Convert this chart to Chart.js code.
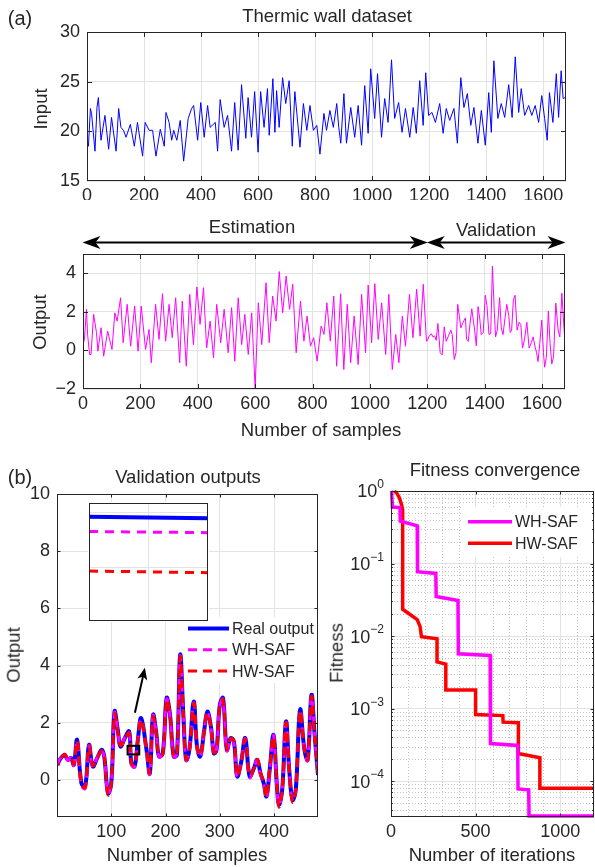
<!DOCTYPE html>
<html><head><meta charset="utf-8">
<script src="https://cdn.jsdelivr.net/npm/chart.js@4/dist/chart.umd.min.js"></script>
<style>
html,body{margin:0;padding:0;background:#fff;}
body{width:595px;height:867px;position:relative;overflow:hidden;font-family:"Liberation Sans",Arial,Helvetica,sans-serif;color:#262626;}
canvas{position:absolute;}
.t{position:absolute;white-space:nowrap;transform:translate(-50%,-50%);font-size:18.5px;line-height:1;color:#262626;}
.r{transform:translate(-50%,-50%) rotate(-90deg);}
</style></head><body>
<canvas id="c1" width="595" height="200" style="left:0;top:0"></canvas>
<canvas id="c2" width="595" height="240" style="left:0;top:205px"></canvas>
<canvas id="c3" width="330" height="407" style="left:0;top:460px"></canvas>
<canvas id="c3i" width="121" height="120" style="left:88px;top:501.5px"></canvas>
<canvas id="c4" width="265" height="407" style="left:330px;top:460px"></canvas>

<div class="t" style="left:20px;top:18px;font-size:20px">(a)</div>
<div class="t" style="left:327px;top:15.5px">Thermic wall dataset</div>
<div class="t r" style="left:41px;top:109px">Input</div>
<div class="t" style="left:252px;top:227px">Estimation</div>
<div class="t" style="left:496px;top:230px">Validation</div>
<div class="t r" style="left:40px;top:322px">Output</div>
<div class="t" style="left:321px;top:430px">Number of samples</div>
<div class="t" style="left:20px;top:477px;font-size:20px">(b)</div>
<div class="t" style="left:188px;top:477px">Validation outputs</div>
<div class="t r" style="left:14px;top:655px">Output</div>
<div class="t" style="left:187px;top:855px">Number of samples</div>
<div class="t" style="left:495px;top:470px">Fitness convergence</div>
<div class="t r" style="left:337px;top:653px">Fitness</div>
<div class="t" style="left:492px;top:855px">Number of iterations</div>

<script>
// ---------------- DATA ----------------
// (a) input temperature: [sample, value]
const inputSeries = [[0,19.2],[5,18.5],[12,22.3],[16,21.8],[28,18.0],[35,22.4],[40,23.4],[49,19.1],[63,21.6],[76,18.2],[86,21.4],[102,18.0],[111,22.3],[119,20.4],[128,20.1],[137,19.4],[152,20.7],[166,18.5],[177,20.9],[195,17.5],[204,20.9],[218,20.1],[230,20.1],[242,17.5],[257,20.2],[271,18.5],[277,21.9],[288,20.9],[297,19.1],[304,20.1],[315,19.1],[327,21.1],[339,17.0],[355,21.3],[367,22.3],[374,22.6],[388,19.1],[399,22.9],[411,19.4],[423,22.6],[432,20.4],[450,20.9],[458,18.0],[467,23.2],[481,20.4],[493,21.6],[507,18.0],[518,22.9],[530,18.1],[542,24.7],[557,19.3],[565,23.4],[577,19.4],[588,24.0],[600,17.9],[609,24.0],[621,20.4],[633,24.3],[639,19.6],[652,25.3],[659,19.9],[665,24.1],[674,20.4],[686,25.4],[697,22.8],[709,25.1],[720,18.5],[729,24.0],[747,18.4],[759,22.8],[771,20.1],[782,22.6],[794,20.1],[806,20.6],[817,17.7],[831,21.8],[840,20.1],[852,22.1],[864,20.4],[876,22.8],[883,20.4],[890,18.8],[901,23.8],[910,18.8],[925,22.4],[939,19.4],[951,22.6],[963,18.6],[974,24.6],[986,19.8],[995,26.3],[1009,21.3],[1019,25.8],[1033,19.4],[1044,23.3],[1056,20.9],[1068,27.2],[1079,21.3],[1093,22.9],[1105,19.9],[1117,22.3],[1132,19.4],[1144,22.4],[1155,19.8],[1167,25.1],[1179,20.6],[1188,25.9],[1198,21.6],[1210,21.9],[1222,20.9],[1237,22.8],[1249,19.8],[1260,22.3],[1272,21.1],[1287,22.3],[1299,18.8],[1311,25.4],[1322,22.4],[1334,23.8],[1346,20.6],[1357,22.4],[1371,18.8],[1383,22.1],[1397,18.6],[1409,23.9],[1418,19.9],[1427,27.1],[1441,21.3],[1453,22.8],[1465,21.4],[1479,24.7],[1491,21.4],[1502,27.5],[1514,21.9],[1523,24.3],[1535,21.6],[1549,22.6],[1560,21.6],[1572,22.6],[1584,20.9],[1595,23.6],[1605,21.3],[1614,19.1],[1622,23.9],[1634,20.9],[1646,25.8],[1654,21.4],[1663,26.1],[1670,23.3],[1677,23.4]];

// (a) output, estimation part: [sample, value]
const outputEstimation = [[0,0.3],[5,0.57],[12,2.13],[16,0.83],[23,-0.21],[28,-0.21],[37,1.87],[47,0.92],[52,-0.04],[63,1.18],[72,-0.3],[86,1.0],[101,0.05],[111,1.95],[119,1.52],[131,2.73],[140,0.4],[154,2.39],[166,0.22],[180,2.3],[192,-0.04],[203,2.3],[218,0.05],[230,1.09],[238,-0.64],[253,2.39],[265,0.57],[277,2.94],[288,0.48],[300,2.39],[311,0.66],[323,2.73],[337,-0.64],[346,2.56],[360,-0.82],[372,2.91],[385,0.3],[397,3.29],[408,1.35],[420,3.25],[431,0.13],[443,1.52],[455,-0.38],[466,2.39],[480,0.4],[492,2.13],[506,-0.12],[518,2.22],[529,-0.56],[541,2.73],[553,0.3],[564,1.87],[576,-0.21],[588,1.95],[600,-1.98],[611,2.47],[623,0.3],[638,3.51],[649,0.4],[661,2.82],[673,1.52],[684,4.09],[696,1.95],[708,3.86],[720,2.13],[731,3.43],[743,-0.12],[758,2.56],[770,0.48],[781,1.78],[793,0.22],[804,0.66],[816,-0.56],[830,1.26],[840,0.83],[850,2.47],[862,0.48],[874,2.82],[884,-0.82],[898,2.94],[909,-0.99],[921,2.39],[933,-0.64],[945,1.78],[959,-0.73],[971,2.91],[985,-0.12],[994,3.39],[1006,0.4],[1017,3.46],[1029,0.57],[1041,2.47],[1055,-0.21],[1066,2.91],[1078,-0.99],[1090,0.83],[1101,-0.64],[1113,1.78],[1124,0.22],[1138,2.91],[1150,0.66],[1163,3.17],[1175,0.74],[1186,3.43],[1197,0.48]];

// (b) validation outputs: [validation sample, value]
const validationReal = [[1,0.52],[5,0.7],[14,0.87],[20,0.7],[26,0.76],[31,0.52],[37,1.4],[45,-0.12],[52,-0.23],[59,1.22],[66,0.47],[74,0.76],[82,1.05],[87,0.82],[94,-0.47],[100,-0.12],[106,2.39],[112,1.75],[117,1.17],[125,1.46],[133,1.69],[137,0.58],[143,0.47],[149,1.4],[155,2.16],[165,1.05],[171,0.23],[177,2.27],[183,1.63],[188,0.82],[195,0.93],[202,2.86],[208,2.33],[215,0.82],[221,0.87],[227,4.37],[233,2.22],[238,0.7],[244,1.05],[252,2.74],[258,1.17],[264,0.82],[271,1.69],[277,2.39],[284,1.81],[289,0.93],[294,1.05],[300,2.62],[306,2.86],[313,1.05],[320,1.46],[326,1.34],[332,0.12],[339,0.58],[347,1.46],[355,0.12],[363,0.41],[369,0.7],[375,0.23],[381,-0.12],[386,-0.58],[392,0.35],[399,1.57],[405,-0.12],[409,-0.87],[415,-0.35],[422,2.04],[428,0.35],[434,-0.7],[440,-0.35],[448,2.45],[456,1.05],[462,0.7],[469,2.97],[475,1.52],[481,0.17]];
const validationWH = [[1,0.5],[5,0.72],[14,0.85],[20,0.68],[26,0.78],[31,0.5],[37,1.38],[45,-0.2],[52,-0.3],[59,1.2],[66,0.45],[74,0.78],[82,1.03],[87,0.8],[94,-0.5],[100,-0.1],[106,2.35],[112,1.72],[117,1.15],[125,1.48],[133,1.66],[137,0.55],[143,0.45],[149,1.42],[155,2.12],[165,1.02],[171,0.2],[177,2.25],[183,1.6],[188,0.8],[195,0.95],[202,2.82],[208,2.3],[215,0.8],[221,0.9],[227,4.33],[233,2.2],[238,0.68],[244,1.07],[252,2.7],[258,1.15],[264,0.8],[271,1.7],[277,2.36],[284,1.78],[289,0.9],[294,1.08],[300,2.6],[306,2.82],[313,1.02],[320,1.45],[326,1.3],[332,0.08],[339,0.6],[347,1.44],[355,0.08],[363,0.42],[369,0.68],[375,0.2],[381,-0.15],[386,-0.62],[392,0.33],[399,1.55],[405,-0.16],[409,-0.9],[415,-0.38],[422,2.0],[428,0.33],[434,-0.74],[440,-0.36],[448,2.42],[456,1.02],[462,0.68],[469,2.93],[475,1.5],[481,0.15]];
const validationHW = [[1,0.55],[5,0.68],[14,0.9],[20,0.72],[26,0.74],[31,0.55],[37,1.36],[45,-0.15],[52,-0.26],[59,1.18],[66,0.5],[74,0.74],[82,1.02],[87,0.84],[94,-0.52],[100,-0.15],[106,2.3],[112,1.7],[117,1.2],[125,1.44],[133,1.64],[137,0.6],[143,0.5],[149,1.38],[155,2.1],[165,1.08],[171,0.25],[177,2.2],[183,1.62],[188,0.85],[195,0.9],[202,2.8],[208,2.3],[215,0.85],[221,0.85],[227,4.3],[233,2.25],[238,0.72],[244,1.02],[252,2.68],[258,1.2],[264,0.85],[271,1.66],[277,2.34],[284,1.8],[289,0.95],[294,1.02],[300,2.58],[306,2.8],[313,1.08],[320,1.44],[326,1.36],[332,0.15],[339,0.56],[347,1.42],[355,0.15],[363,0.4],[369,0.72],[375,0.25],[381,-0.1],[386,-0.6],[392,0.38],[399,1.52],[405,-0.1],[409,-0.95],[415,-0.32],[422,2.0],[428,0.38],[434,-0.78],[440,-0.33],[448,2.4],[456,1.08],[462,0.72],[469,2.92],[475,1.55],[481,0.2]];
const validationStart = 1200;          // validation begins after this sample
const datasetBounds = [0, 1200, 1680]; // estimation | validation

// inset (zoom of the small box)
const insetSamples = [139.9, 140.1];
const insetReal = [0.9493, 0.9490];
const insetWH = [0.9466, 0.9464];
const insetHW = [0.9394, 0.9391];
const zoomBox = {x0:130, x1:151.6, y0:0.89, y1:1.19};
const zoomArrow = {x0:143.6, y0:2.35, x1:162, y1:3.92};

// fitness convergence: [iteration, fitness]
const fitnessWH = [[1,1.0],[4,0.96],[8,0.6],[53,0.59],[55,0.385],[155,0.33],[157,0.077],[265,0.073],[267,0.035],[396,0.031],[398,0.0057],[586,0.0054],[588,0.00033],[749,0.00031],[751,0.000078],[814,0.000076],[816,0.000033],[1200,0.000033]];
const fitnessHW = [[19,1.0],[35,0.93],[50,0.8],[62,0.65],[69,0.55],[69,0.0234],[155,0.0169],[172,0.0135],[180,0.0098],[272,0.0092],[272,0.0044],[324,0.0041],[324,0.0018],[500,0.0018],[500,0.00083],[661,0.0008],[663,0.00065],[753,0.00064],[753,0.00024],[880,0.00021],[880,0.00008],[1200,0.00008]];

// tick values
const ticksA_x = [0,200,400,600,800,1000,1200,1400,1600];
const ticksInput_y = [15,20,25,30];
const ticksOutput_y = [-2,0,2,4];
const ticksVal_x = [100,200,300,400];
const ticksVal_y = [0,2,4,6,8,10];
const ticksFit_x = [0,500,1000];
const fitDecades = [0,-1,-2,-3,-4];

// ---------------- STYLE / HELPERS ----------------
const FONT = '"Liberation Sans", Arial, Helvetica, sans-serif';
const TXT = '#262626', GRID = '#e3e3e3', AX = '#262626';
const TICKFONT = 18;
Chart.defaults.font.family = FONT;
Chart.defaults.color = TXT;
Chart.defaults.animation = false;

const pts = arr => arr.map(([x,y]) => ({x, y}));
const minus = v => v < 0 ? '\u2212' + (-v) : String(v);

function xScale(min, max, ticks, h, show=true){
  return {type:'linear', min, max,
    grid:{color:GRID, drawTicks:false, lineWidth:1}, border:{display:false},
    ticks:{display:show, color:TXT, font:{size:TICKFONT}, padding:4, maxRotation:0, autoSkip:false, callback:v=>minus(v)},
    afterBuildTicks:s=>{s.ticks = ticks.map(v=>({value:v}));},
    afterFit:s=>{s.height = h;}};
}
function yScale(min, max, ticks, w, show=true){
  return {type:'linear', min, max,
    grid:{color:GRID, drawTicks:false, lineWidth:1}, border:{display:false},
    ticks:{display:show, color:TXT, font:{size:TICKFONT}, padding:7, callback:v=>minus(v)},
    afterBuildTicks:s=>{s.ticks = ticks.map(v=>({value:v}));},
    afterFit:s=>{s.width = w;}};
}

const framePlugin = {
  id:'frame',
  afterDatasetsDraw(chart, args, o){
    if(!o || !o.on) return;
    const ctx = chart.ctx, a = chart.chartArea;
    const xs = chart.scales.x, ys = chart.scales.y;
    const L = o.len || 5;
    ctx.save();
    ctx.strokeStyle = AX; ctx.lineWidth = 1;
    ctx.beginPath();
    if(o.ticks !== false){
      xs.ticks.forEach(t=>{
        const p = Math.round(xs.getPixelForValue(t.value)) + 0.5;
        if(p < a.left + 1 || p > a.right - 1) return;
        ctx.moveTo(p, a.bottom); ctx.lineTo(p, a.bottom - L);
        ctx.moveTo(p, a.top); ctx.lineTo(p, a.top + L);
      });
      ys.ticks.forEach(t=>{
        const p = Math.round(ys.getPixelForValue(t.value)) + 0.5;
        if(p < a.top + 1 || p > a.bottom - 1) return;
        ctx.moveTo(a.left, p); ctx.lineTo(a.left + L, p);
        ctx.moveTo(a.right, p); ctx.lineTo(a.right - L, p);
      });
      (o.minorY || []).forEach(v=>{
        const p = Math.round(ys.getPixelForValue(v)) + 0.5;
        if(p < a.top + 1 || p > a.bottom - 1) return;
        ctx.moveTo(a.left, p); ctx.lineTo(a.left + L*0.55, p);
        ctx.moveTo(a.right, p); ctx.lineTo(a.right - L*0.55, p);
      });
    }
    ctx.stroke();
    ctx.strokeRect(Math.round(a.left) + 0.5, Math.round(a.top) + 0.5, Math.round(a.right - a.left) - 1, Math.round(a.bottom - a.top) - 1);
    ctx.restore();
  }
};
Chart.register(framePlugin);

function baseOpts(pad){
  return {responsive:false, animation:false, events:[],
    layout:{padding:pad},
    plugins:{legend:{display:false}, tooltip:{enabled:false}, title:{display:false}},
    elements:{point:{radius:0}, line:{tension:0}}};
}

function drawArrowHead(ctx, x, y, dir, len, half){
  ctx.beginPath();
  ctx.moveTo(x, y);
  ctx.lineTo(x - dir*len, y - half);
  ctx.lineTo(x - dir*len*0.72, y);
  ctx.lineTo(x - dir*len, y + half);
  ctx.closePath();
  ctx.fill();
}

// ---------------- CHART 1: input ----------------
{
  const o = baseOpts({left:0, top:32, right:29, bottom:0});
  o.scales = {x:xScale(0,1680,ticksA_x,19), y:yScale(15,30,ticksInput_y,87)};
  o.plugins.frame = {on:true, len:5};
  new Chart(document.getElementById('c1'), {type:'line',
    data:{datasets:[{data:pts(inputSeries), borderColor:'#0000ff', borderWidth:1, pointRadius:0}]},
    options:o});
}

// ---------------- CHART 2: output ----------------
{
  const full = outputEstimation.concat(validationReal.map(([s,v])=>[s+validationStart, v]));
  const o = baseOpts({left:0, top:49, right:30, bottom:0});
  o.scales = {x:xScale(0,1680,ticksA_x,56), y:yScale(-2,5,ticksOutput_y,83)};
  o.plugins.frame = {on:true, len:5};
  const arrows = {id:'splitArrows', afterDraw(chart){
    const ctx = chart.ctx, xs = chart.scales.x, y = 37.5;
    const p = datasetBounds.map(v=>xs.getPixelForValue(v));
    ctx.save();
    ctx.strokeStyle = '#000'; ctx.fillStyle = '#000'; ctx.lineWidth = 2;
    [[p[0],p[1]],[p[1],p[2]]].forEach(([a,b])=>{
      ctx.beginPath(); ctx.moveTo(a+6, y); ctx.lineTo(b-6, y); ctx.stroke();
      drawArrowHead(ctx, a-0.5, y, -1, 18, 6.5);
      drawArrowHead(ctx, b+0.5, y, 1, 18, 6.5);
    });
    ctx.restore();
  }};
  new Chart(document.getElementById('c2'), {type:'line',
    data:{datasets:[{data:pts(full), borderColor:'#ff00ff', borderWidth:1, pointRadius:0}]},
    options:o, plugins:[arrows]});
}

// ---------------- CHART 3: validation outputs ----------------
{
  const o = baseOpts({left:0, top:34, right:12, bottom:0});
  o.scales = {x:xScale(0,481,ticksVal_x,50), y:yScale(-1.3,10,ticksVal_y,57)};
  o.plugins.frame = {on:true, len:3.5};
  o.elements.line.tension = 0.4;
  const extras = {id:'valExtras', afterDraw(chart){
    const ctx = chart.ctx, xs = chart.scales.x, ys = chart.scales.y, a = chart.chartArea;
    ctx.save();
    const bx0 = xs.getPixelForValue(zoomBox.x0), bx1 = xs.getPixelForValue(zoomBox.x1);
    const by0 = ys.getPixelForValue(zoomBox.y1), by1 = ys.getPixelForValue(zoomBox.y0);
    ctx.strokeStyle = '#000'; ctx.lineWidth = 2;
    ctx.strokeRect(bx0, by0, bx1-bx0, by1-by0);
    const ax0 = xs.getPixelForValue(zoomArrow.x0), ay0 = ys.getPixelForValue(zoomArrow.y0);
    const ax1 = xs.getPixelForValue(zoomArrow.x1), ay1 = ys.getPixelForValue(zoomArrow.y1);
    const ang = Math.atan2(ay1-ay0, ax1-ax0);
    ctx.beginPath(); ctx.moveTo(ax0, ay0); ctx.lineTo(ax1 - 8*Math.cos(ang), ay1 - 8*Math.sin(ang)); ctx.stroke();
    ctx.fillStyle = '#000';
    ctx.translate(ax1, ay1); ctx.rotate(ang);
    ctx.beginPath(); ctx.moveTo(0,0); ctx.lineTo(-12,-5); ctx.lineTo(-9,0); ctx.lineTo(-12,5); ctx.closePath(); ctx.fill();
    ctx.setTransform(1,0,0,1,0,0);
    const lx = 185, ly = 617-460;
    ctx.fillStyle = '#fff'; ctx.fillRect(lx, ly, a.right - lx - 1, 66);
    const rows = [['Real output','#0000ff',4,[]],['WH-SAF','#ff00ff',3,[9,6]],['HW-SAF','#ff0000',3,[9,6]]];
    rows.forEach(([txt,col,w,dash],i)=>{
      const y = ly + 11.5 + i*21.3;
      ctx.strokeStyle = col; ctx.lineWidth = w; ctx.setLineDash(dash);
      ctx.beginPath(); ctx.moveTo(lx+3, y); ctx.lineTo(lx+44, y); ctx.stroke();
      ctx.setLineDash([]);
      ctx.fillStyle = TXT; ctx.font = '16px ' + FONT; ctx.textAlign = 'left'; ctx.textBaseline = 'middle';
      ctx.fillText(txt, lx+47, y+1);
    });
    ctx.restore();
  }};
  new Chart(document.getElementById('c3'), {type:'line',
    data:{datasets:[
      {data:pts(validationReal), borderColor:'#0000ff', borderWidth:4, pointRadius:0, order:3},
      {data:pts(validationWH), borderColor:'#ff00ff', borderWidth:3, borderDash:[9,6], pointRadius:0, order:2},
      {data:pts(validationHW), borderColor:'#ff0000', borderWidth:3, borderDash:[9,6], borderDashOffset:7.5, pointRadius:0, order:1}
    ]}, options:o, plugins:[extras]});
}

// ---------------- INSET ----------------
{
  const o = baseOpts({left:1, top:1, right:1, bottom:1});
  o.scales = {x:xScale(139.9,140.1,[140],0,false), y:yScale(0.9303,0.9518,[0.94,0.95],0,false)};
  o.plugins.frame = {on:true, ticks:false};
  const bg = {id:'bg', beforeDraw(chart){const c=chart.ctx; c.save(); c.fillStyle='#fff'; c.fillRect(0,0,chart.width,chart.height); c.restore();}};
  const mk = (ys) => insetSamples.map((x,i)=>({x, y:ys[i]}));
  new Chart(document.getElementById('c3i'), {type:'line',
    data:{datasets:[
      {data:mk(insetReal), borderColor:'#0000ff', borderWidth:4, pointRadius:0, order:3},
      {data:mk(insetWH), borderColor:'#ff00ff', borderWidth:3, borderDash:[9,7], pointRadius:0, order:2},
      {data:mk(insetHW), borderColor:'#ff0000', borderWidth:3, borderDash:[9,7], pointRadius:0, order:1}
    ]}, options:o, plugins:[bg]});
}

// ---------------- CHART 4: fitness convergence ----------------
{
  const minorY = [];
  for(let e=-5;e<0;e++) for(let s=2;s<=9;s++) minorY.push(s*Math.pow(10,e));
  const o = baseOpts({left:0, top:31, right:1, bottom:0});
  o.scales = {
    x:xScale(0,1200,ticksFit_x,50),
    y:{type:'logarithmic', min:3.2e-5, max:1,
       grid:{color:GRID, drawTicks:false}, border:{display:false},
       ticks:{display:false},
       afterBuildTicks:s=>{s.ticks = fitDecades.map(e=>({value:Math.pow(10,e)}));},
       afterFit:s=>{s.width = 61;}}
  };
  o.plugins.frame = {on:true, len:3.5, minorY};
  const extras = {id:'fitExtras',
    beforeDatasetsDraw(chart){
      const ctx = chart.ctx, xs = chart.scales.x, ys = chart.scales.y, a = chart.chartArea;
      ctx.save(); ctx.strokeStyle = '#c4c4c4'; ctx.lineWidth = 1; ctx.setLineDash([1,2]);
      ctx.beginPath();
      minorY.forEach(v=>{ if(v < ys.min || v > ys.max) return;
        const p = Math.round(ys.getPixelForValue(v))+0.5; ctx.moveTo(a.left, p); ctx.lineTo(a.right, p);});
      for(let it=100; it<1200; it+=100){ if(it%500===0) continue;
        const p = Math.round(xs.getPixelForValue(it))+0.5; ctx.moveTo(p, a.top); ctx.lineTo(p, a.bottom);}
      ctx.stroke(); ctx.restore();
    },
    afterDraw(chart){
      const ctx = chart.ctx, ys = chart.scales.y, a = chart.chartArea;
      ctx.save(); ctx.fillStyle = TXT; ctx.textBaseline = 'middle';
      const endX = a.left - 7;
      fitDecades.forEach(e=>{
        const y = ys.getPixelForValue(Math.pow(10,e));
        const sup = e === 0 ? '0' : '\u2212' + (-e);
        ctx.font = '12px ' + FONT; const w = ctx.measureText(sup).width;
        ctx.textAlign = 'left'; ctx.fillText(sup, endX - w, y - 6);
        ctx.font = TICKFONT + 'px ' + FONT; ctx.textAlign = 'right'; ctx.fillText('10', endX - w, y + 1.5);
      });
      const lx = 462-330, ly = 507-460;
      ctx.fillStyle = '#fff'; ctx.fillRect(lx, ly, a.right - lx - 3, 50);
      [['WH-SAF','#ff00ff'],['HW-SAF','#ff0000']].forEach(([txt,col],i)=>{
        const y = ly + 14.7 + i*21.6;
        ctx.strokeStyle = col; ctx.lineWidth = 3.5;
        ctx.beginPath(); ctx.moveTo(lx+6, y); ctx.lineTo(lx+50, y); ctx.stroke();
        ctx.fillStyle = TXT; ctx.font = '16px ' + FONT; ctx.textAlign = 'left';
        ctx.fillText(txt, lx+53, y+1);
      });
      ctx.restore();
    }};
  new Chart(document.getElementById('c4'), {type:'line',
    data:{datasets:[
      {data:pts(fitnessWH), borderColor:'#ff00ff', borderWidth:3.5, pointRadius:0, clip:false},
      {data:pts(fitnessHW), borderColor:'#ff0000', borderWidth:3.5, pointRadius:0, clip:false}
    ]}, options:o, plugins:[extras]});
}
</script>
</body></html>
